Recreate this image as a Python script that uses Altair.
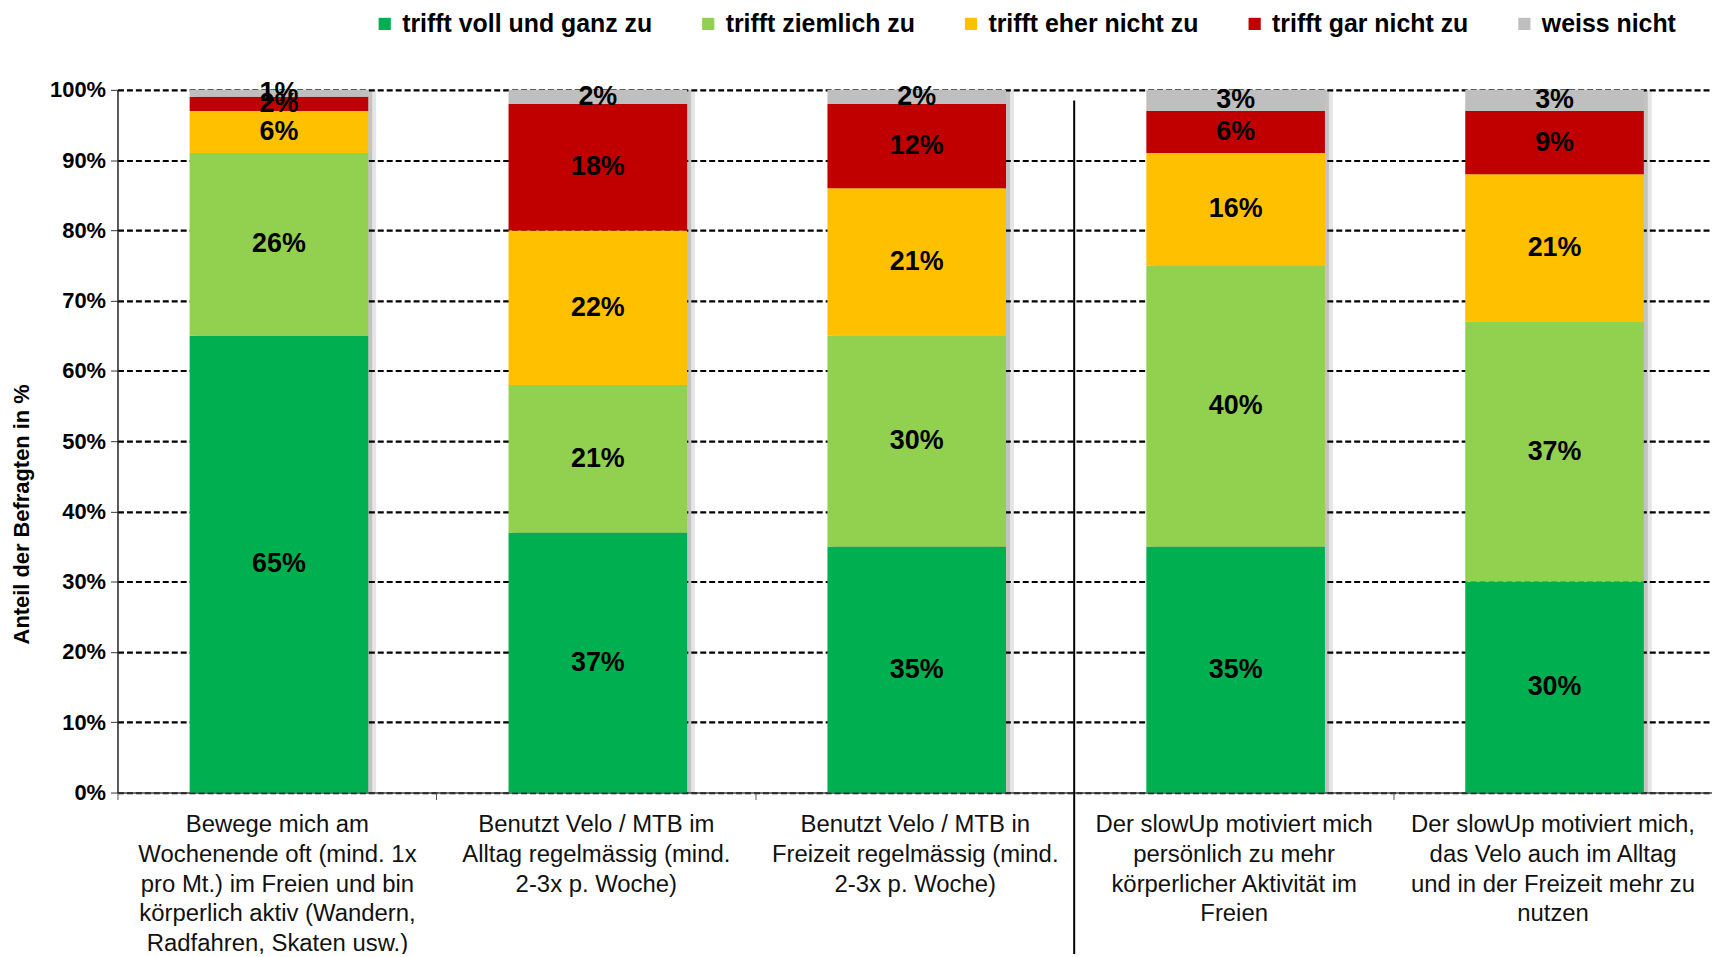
import altair as alt
import pandas as pd

categories = [
    "Bewege mich am\nWochenende oft (mind. 1x\npro Mt.) im Freien und bin\nkörperlich aktiv (Wandern,\nRadfahren, Skaten  usw.)",
    "Benutzt Velo / MTB im\nAlltag regelmässig (mind.\n2-3x p. Woche)",
    "Benutzt Velo / MTB in\nFreizeit regelmässig (mind.\n2-3x p. Woche)",
    "Der slowUp motiviert mich\npersönlich zu mehr\nkörperlicher Aktivität im\nFreien",
    "Der slowUp motiviert mich,\ndas Velo auch im Alltag\nund in der Freizeit mehr zu\nnutzen",
]
series = ["trifft voll und ganz zu", "trifft ziemlich zu", "trifft eher nicht zu",
          "trifft gar nicht zu", "weiss nicht"]
colors = ["#00B050", "#92D050", "#FFC000", "#C00000", "#BFBFBF"]

voll = [65, 37, 35, 35, 30]
ziemlich = [26, 21, 30, 40, 37]
eher_nicht = [6, 22, 21, 16, 21]
gar_nicht = [2, 18, 12, 6, 9]
weiss_nicht = [1, 2, 2, 3, 3]

y_ticks = [0, 10, 20, 30, 40, 50, 60, 70, 80, 90, 100]

rows = []
for s_i, (name, vals) in enumerate(zip(series, [voll, ziemlich, eher_nicht, gar_nicht, weiss_nicht])):
    for c, v in zip(categories, vals):
        rows.append({"cat": c, "series": name, "order": s_i, "value": v})
df = pd.DataFrame(rows)
tot = pd.DataFrame({"cat": categories, "total": [sum(x) for x in zip(voll, ziemlich, eher_nicht, gar_nicht, weiss_nicht)]})
sep = pd.DataFrame({"cat": [categories[3]], "top": [98.5]})

FONT = "Liberation Sans Narrow, Arial Narrow, Liberation Sans, Arial"
W, H = 1602, 706

xscale = alt.Scale(domain=categories, paddingInner=0, paddingOuter=0)
yscale = alt.Scale(domain=[0, 100])

x_enc = alt.X(
    "cat:N", scale=xscale, sort=categories, title=None,
    axis=alt.Axis(
        labelExpr="split(datum.label, '\\n')", labelAngle=0, labelLimit=0,
        labelAlign="center", labelBaseline="top",
        labelFont=FONT, labelFontSize=24, labelColor="#111111", labelLineHeight=30,
        labelPadding=13, tickBand="extent", tickSize=7, tickColor="#555555",
        domainColor="#444444", domainWidth=1.5, grid=False,
    ),
)

base = alt.Chart(df)

shadow1 = alt.Chart(tot).mark_bar(color="#000000", opacity=0.10, xOffset=10, width=alt.RelativeBandSize(0.56)).encode(
    x=alt.X("cat:N", scale=xscale, sort=categories), y=alt.Y("total:Q", scale=yscale))
shadow2 = alt.Chart(tot).mark_bar(color="#000000", opacity=0.15, xOffset=6, width=alt.RelativeBandSize(0.56)).encode(
    x=alt.X("cat:N", scale=xscale, sort=categories), y=alt.Y("total:Q", scale=yscale))

bars = base.transform_stack(
    stack="value", groupby=["cat"], as_=["y0", "y1"], sort=[alt.SortField("order")]
).mark_bar(width=alt.RelativeBandSize(0.56), xOffset=2).encode(
    x=x_enc,
    y=alt.Y("y0:Q", scale=yscale, title="Anteil der Befragten in %",
            axis=alt.Axis(values=y_ticks, labelExpr="datum.value + '%'", labelFont=FONT,
                          labelFontSize=22, labelFontWeight="bold", labelColor="#000000",
                          labelPadding=5, tickSize=7, tickColor="#333333",
                          domainColor="#222222", domainWidth=1.5,
                          grid=True, gridColor="#000000", gridWidth=2.2, gridDash=[6, 3],
                          titleFont=FONT, titleFontSize=22, titleFontWeight="bold",
                          titleColor="#000000", titleAngle=-90, titleX=-96, titleY=426,
                          titleBaseline="middle", titleAlign="center")),
    y2="y1:Q",
    color=alt.Color("series:N", scale=alt.Scale(domain=series, range=colors),
                    legend=alt.Legend(title=None, orient="none", direction="horizontal",
                                      columns=5, legendX=256, legendY=-79,
                                      symbolType="square", symbolSize=150,
                                      symbolStrokeWidth=0, labelFont=FONT,
                                      labelFontSize=25, labelFontWeight="bold",
                                      labelColor="#000000", columnPadding=43,
                                      labelOffset=5, labelLimit=0)),
    order=alt.Order("order:Q"),
)

labels = base.transform_stack(
    stack="value", groupby=["cat"], as_=["y0", "y1"], sort=[alt.SortField("order")]
).transform_calculate(
    mid="(datum.y0 + datum.y1) / 2", lab="datum.value + '%'"
).mark_text(font=FONT, fontSize=27, fontWeight="bold", color="#000000", baseline="middle", dx=2).encode(
    x=alt.X("cat:N", scale=xscale, sort=categories),
    y=alt.Y("mid:Q", scale=yscale),
    text="lab:N",
)

separator = alt.Chart(sep).mark_rule(color="#000000", strokeWidth=2).encode(
    x=alt.X("cat:N", scale=xscale, sort=categories, bandPosition=0),
    y=alt.Y("top:Q", scale=yscale),
    y2=alt.value(H + 200),
)

chart = alt.layer(shadow1, shadow2, bars, labels, separator).properties(
    width=W, height=H,
    autosize=alt.AutoSizeParams(type="none"),
    padding={"left": 110, "top": 80, "right": 0, "bottom": 160},
    background="white",
).configure_view(stroke=None)

chart.save("out.html", embed_options={"renderer": "svg", "actions": False})
